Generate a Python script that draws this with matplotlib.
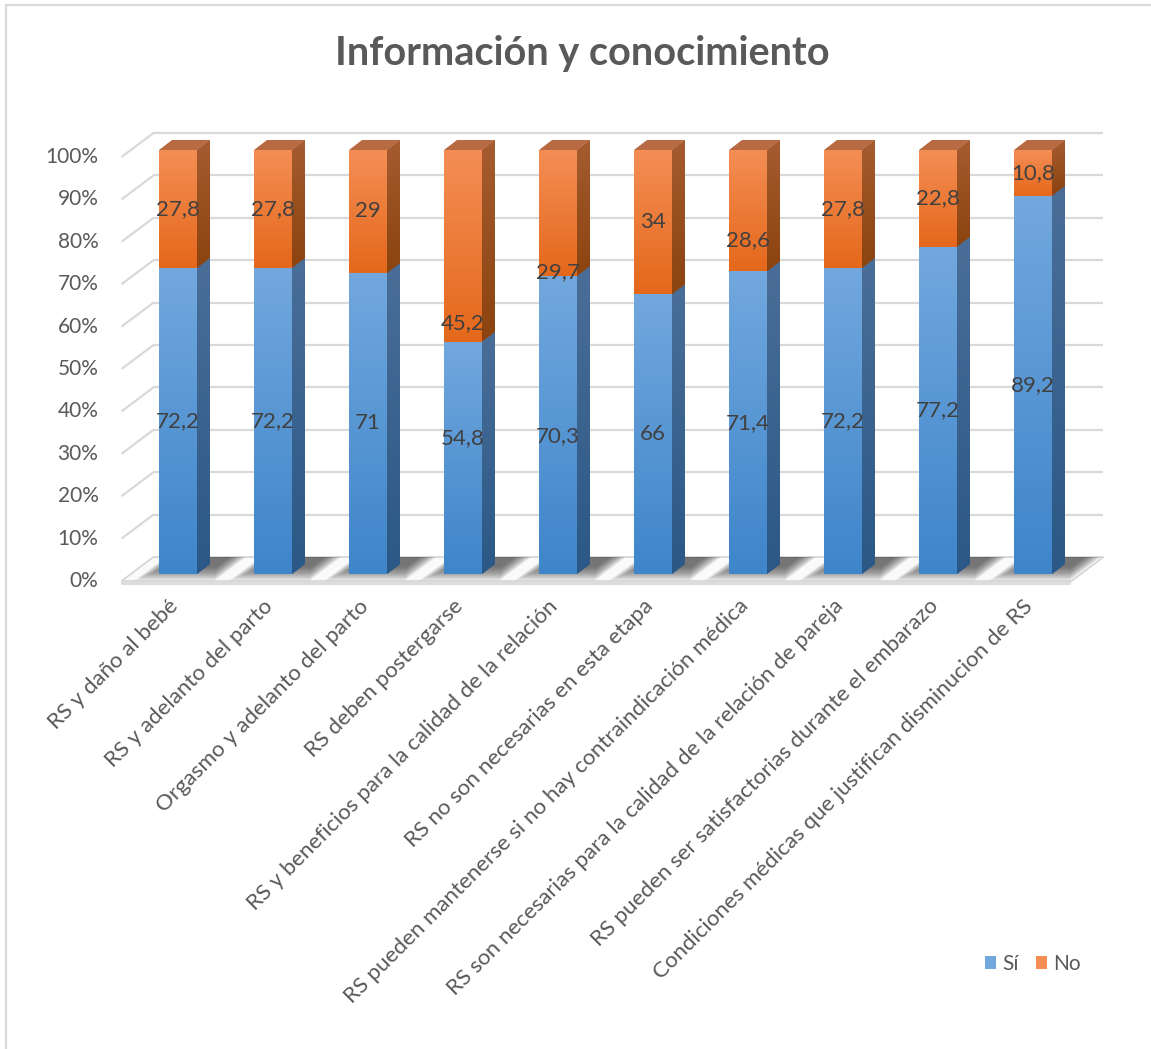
import numpy as np
import matplotlib
matplotlib.use("Agg")
import matplotlib.pyplot as plt
from matplotlib.patches import Polygon, Rectangle, Patch
from matplotlib.colors import LinearSegmentedColormap

# ---- data -------------------------------------------------------------
categories = [
    "RS y daño al bebé",
    "RS y adelanto del parto",
    "Orgasmo y adelanto del parto",
    "RS deben postergarse",
    "RS y beneficios para la calidad de la relación",
    "RS no son necesarias en esta etapa",
    "RS pueden mantenerse si no hay contraindicación médica",
    "RS son necesarias para la calidad de la relación de pareja",
    "RS pueden ser satisfactorias durante el embarazo",
    "Condiciones médicas que justifican disminucion de RS",
]
si = [72.2, 72.2, 71, 54.8, 70.3, 66, 71.4, 72.2, 77.2, 89.2]
no = [27.8, 27.8, 29, 45.2, 29.7, 34, 28.6, 27.8, 22.8, 10.8]
series_names = ["Sí", "No"]
yticks = list(range(0, 101, 10))
title = "Información y conocimiento"

# data labels that were dragged away from the segment middle (height in %)
moved_si = {3: 32.1, 4: 32.5}
moved_no = {3: 59.2, 4: 71.2, 6: 78.8}

# ---- style ------------------------------------------------------------
FONT = "Lato"
plt.rcParams["font.family"] = [FONT, "DejaVu Sans"]
TXT = "#595959"
LBL = "#404040"
GRID = "#D9D9D9"
blue_front = ("#3E85CA", "#72A8DE")   # bottom, top
blue_side = ("#2B5886", "#4A6E98")
orange_front = ("#E4681B", "#F48E55")
orange_side = ("#8B430F", "#A65C30")
orange_top = "#B86A42"
FS_TICK, FS_LABEL, FS_CAT = 15, 16, 16

W, H, DPI = 1151, 1049, 100
fig = plt.figure(figsize=(W / DPI, H / DPI), dpi=DPI)
fig.patch.set_facecolor("white")

# backdrop axes in pixel units (walls, floor, 3-D faces, text)
bg = fig.add_axes([0, 0, 1, 1], zorder=0)
bg.set_xlim(0, W)
bg.set_ylim(H, 0)
bg.axis("off")

# front plane of the columns
L_px, R_px = 130.5, 1080.5
B_px, T_px = 574, 150
ax = fig.add_axes([L_px / W, (H - B_px) / H, (R_px - L_px) / W, (B_px - T_px) / H], zorder=1)
ax.patch.set_alpha(0)
ax.axis("off")
n = len(categories)
xs = np.arange(n)
XLIM, YLIM = (-0.5, n - 0.5), (0, 100)
ax.set_xlim(*XLIM)
ax.set_ylim(*YLIM)

# depth offsets (pixels, image rows grow downwards)
FRONT = (-9, 7)     # front edge of walls/floor relative to column face
BACK = (23, -17)    # back wall relative to column face
DEPTH = (13, -10)   # column thickness
SPAN = FRONT[1] - BACK[1]


def to_img(x, y):
    d = ax.transData.transform((x, y))
    return d[0], H - d[1]


def vgrad(cols):
    return LinearSegmentedColormap.from_list("g", list(cols))


grad = np.linspace(0, 1, 256).reshape(-1, 1)

# ---- walls & gridlines -------------------------------------------------
xl, _ = to_img(XLIM[0], 0)
xr, _ = to_img(XLIM[1], 0)
for v in yticks:
    _, yv = to_img(0, v)
    if v > 0:
        bg.plot([xl + FRONT[0], xl + BACK[0]], [yv + FRONT[1], yv + BACK[1]],
                color=GRID, lw=1.6, solid_capstyle="butt", zorder=1)
        bg.plot([xl + BACK[0], xr + BACK[0]], [yv + BACK[1], yv + BACK[1]],
                color=GRID, lw=1.6, solid_capstyle="butt", zorder=1)
    bg.text(xl + FRONT[0] - 23, yv + FRONT[1], f"{v}%", ha="right", va="center",
            fontsize=FS_TICK, color=TXT)

# floor
_, y0 = to_img(0, 0)


def floor_pt(u, t):
    """Point on the floor: u = x in the column plane, t = depth (0 front, 1 back)."""
    return (u + FRONT[0] + t * (BACK[0] - FRONT[0]), y0 + FRONT[1] - t * SPAN)


floor_pts = [floor_pt(xl, 0), floor_pt(xr, 0), floor_pt(xr, 1), floor_pt(xl, 1)]
floor = Polygon(floor_pts, closed=True, facecolor="#FAFAFA", edgecolor="#D4D4D4", lw=1.2, zorder=2)
bg.add_patch(floor)
bg.add_patch(Rectangle((xl + FRONT[0], y0 + FRONT[1]), xr - xl, 3.5,
                       facecolor="#DCDCDC", edgecolor="none", zorder=2))

# soft column shadows: stacked translucent footprints, denser toward the back
N_LAYERS = 11
for i in range(n):
    bl, _ = to_img(xs[i] - 0.2, 0)
    br, _ = to_img(xs[i] + 0.2, 0)
    for j in range(N_LAYERS):
        ua, ub = bl - 16 + j * 1.3, br + 26 - j * 1.6
        ta = 0.02 + j * 0.055
        sh = Polygon([floor_pt(ua, ta), floor_pt(ub, ta), floor_pt(ub, 1.0), floor_pt(ua, 1.0)],
                     closed=True, facecolor="#333333", edgecolor="none", alpha=0.09, zorder=3)
        bg.add_patch(sh)
        sh.set_clip_path(floor)

# ---- columns -----------------------------------------------------------
bars_si = ax.bar(xs, si, width=0.4, color=blue_front[0], edgecolor="none", zorder=2)
bars_no = ax.bar(xs, no, width=0.4, bottom=si, color=orange_front[0], edgecolor="none", zorder=2)

for bars, front_cols in ((bars_si, blue_front), (bars_no, orange_front)):
    cm = vgrad(front_cols)
    for r in bars:
        x0, yb = r.get_x(), r.get_y()
        img = ax.imshow(grad, cmap=cm, origin="lower", aspect="auto",
                        extent=(x0, x0 + r.get_width(), yb, yb + r.get_height()), zorder=3)
        img.set_clip_path(r)
ax.set_xlim(*XLIM)
ax.set_ylim(*YLIM)


def side_face(r, cols, z):
    x1 = r.get_x() + r.get_width()
    _, ybot = to_img(x1, r.get_y())
    xi, ytop = to_img(x1, r.get_y() + r.get_height())
    pts = [(xi, ybot), (xi, ytop), (xi + DEPTH[0], ytop + DEPTH[1]), (xi + DEPTH[0], ybot + DEPTH[1])]
    poly = Polygon(pts, closed=True, facecolor=cols[0], edgecolor="none", zorder=z)
    bg.add_patch(poly)
    gim = bg.imshow(grad, cmap=vgrad(cols), origin="lower", aspect="auto",
                    extent=(xi, xi + DEPTH[0], ybot, ytop + DEPTH[1]), zorder=z)
    gim.set_clip_path(poly)


for r in bars_si:
    side_face(r, blue_side, 5)
for r in bars_no:
    side_face(r, orange_side, 5)
    xa, yt = to_img(r.get_x(), r.get_y() + r.get_height())
    xb, _ = to_img(r.get_x() + r.get_width(), r.get_y() + r.get_height())
    bg.add_patch(Polygon([(xa, yt), (xb, yt), (xb + DEPTH[0], yt + DEPTH[1]), (xa + DEPTH[0], yt + DEPTH[1])],
                         closed=True, facecolor=orange_top, edgecolor="none", zorder=5))
bg.set_xlim(0, W)
bg.set_ylim(H, 0)


# ---- data labels -------------------------------------------------------
def fmt(v):
    return f"{v:g}".replace(".", ",")


for i in range(n):
    ys = moved_si.get(i, si[i] / 2)
    yn = moved_no.get(i, si[i] + no[i] / 2)
    ax.text(xs[i], ys, fmt(si[i]), ha="center", va="center", fontsize=FS_LABEL, color=LBL, zorder=6)
    ax.text(xs[i], yn, fmt(no[i]), ha="center", va="center", fontsize=FS_LABEL, color=LBL, zorder=6)

# ---- category labels ---------------------------------------------------
for i, c in enumerate(categories):
    cx, _ = to_img(xs[i], 0)
    bg.text(cx - 3, 603, c, rotation=45, rotation_mode="anchor", ha="right", va="center",
            fontsize=FS_CAT, color=TXT)

# ---- title, legend, frame ----------------------------------------------
bg.text(582, 54, title, ha="center", va="center", fontsize=28.5, fontweight="bold", color=TXT)

handles = [Patch(facecolor=blue_front[1], edgecolor="none"),
           Patch(facecolor=orange_front[1], edgecolor="none")]
fig.legend(handles, series_names, loc="center left", bbox_to_anchor=(985 / W, 1 - 964 / H),
           ncol=2, frameon=False, fontsize=FS_TICK, handlelength=0.55, handleheight=0.55,
           handletextpad=0.3, columnspacing=0.8, borderpad=0, borderaxespad=0, labelcolor=TXT)

bg.plot([6.5, 6.5], [4, H], color=GRID, lw=1.6, solid_capstyle="butt", zorder=1)
bg.plot([6, W], [5, 5], color=GRID, lw=1.6, solid_capstyle="butt", zorder=1)

fig.savefig("out.png", dpi=DPI, facecolor="white")
